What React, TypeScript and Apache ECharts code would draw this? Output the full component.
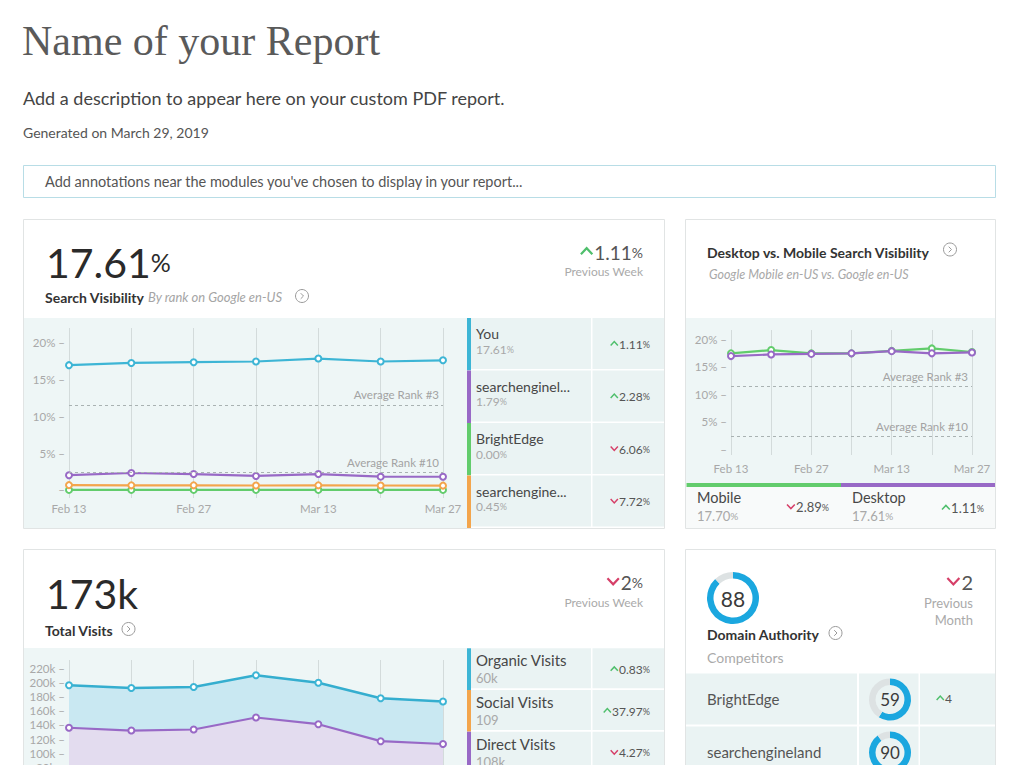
import React, { useEffect, useRef } from 'react';
import * as echarts from 'echarts';

// ---------------- data ----------------
const weeks = ['Feb 13', 'Feb 20', 'Feb 27', 'Mar 6', 'Mar 13', 'Mar 20', 'Mar 27'];

const visYou = [16.95, 17.25, 17.35, 17.45, 17.85, 17.45, 17.61];
const visSearchEngineLand = [2.0, 2.3, 2.15, 1.9, 2.15, 1.8, 1.79];
const visBrightEdge = [0, 0, 0, 0, 0, 0, 0];
const visSearchEngine = [0.65, 0.62, 0.62, 0.6, 0.62, 0.6, 0.58];
const visTicks = [0, 5, 10, 15, 20];
const avgRank3 = 11.55;
const avgRank10 = 2.42;

const visLegendNames = ['You', 'searchenginel...', 'BrightEdge', 'searchengine...'];
const visLegendValues = ['17.61', '1.79', '0.00', '0.45'];
const visLegendChanges = ['1.11', '2.28', '6.06', '7.72'];
const visLegendUp = [true, true, false, false];

const mobileVis = [17.45, 18.05, 17.45, 17.45, 17.9, 18.35, 17.7];
const desktopVis = [16.95, 17.25, 17.35, 17.45, 17.85, 17.45, 17.61];
const mobAvgRank3 = 11.4;
const mobAvgRank10 = 2.3;

const directVisits = [136, 132, 133.5, 150.5, 141, 117, 113]; // thousands
const socialVisits = [0.1, 0.1, 0.1, 0.1, 0.1, 0.1, 0.11];
const organicVisits = [60, 60, 60, 59.5, 58.5, 60.5, 60];
const visitTicks = [80, 100, 120, 140, 160, 180, 200, 220];

const visitLegendNames = ['Organic Visits', 'Social Visits', 'Direct Visits'];
const visitLegendValues = ['60k', '109', '108k'];
const visitLegendChanges = ['0.83', '37.97', '4.27'];
const visitLegendUp = [true, true, false];

const domainAuthority = 88;
const competitorNames = ['BrightEdge', 'searchengineland'];
const competitorDA = [59, 90];
const competitorChanges = ['4', ''];

// ---------------- styles ----------------
const FONT = 'Lato, "Noto Sans", sans-serif';
const BLUE = '#3db5d5';
const PURPLE = '#9869c6';
const GREEN = '#62cc6c';
const ORANGE = '#f3a54c';
const UP = '#4fbf6c';
const DOWN = '#d63f68';
const CHART_BG = '#eef6f6';
const CELL_BG = '#eaf3f3';
const DA_BLUE = '#1ba7df';
const DA_GRAY = '#dde2e3';

let measureCtx: CanvasRenderingContext2D | null = null;
function measure(text: string, size: number): number {
  if (!measureCtx) measureCtx = document.createElement('canvas').getContext('2d');
  if (!measureCtx) return text.length * size * 0.5;
  measureCtx.font = `${size}px Lato`;
  return measureCtx.measureText(text).width;
}

function T(x: number, y: number, text: string, size: number, color: string, o: any = {}) {
  return {
    type: 'text',
    x,
    y,
    z: 10,
    silent: true,
    style: {
      text,
      fontFamily: o.family || FONT,
      fontSize: size,
      fontWeight: o.weight || 'normal',
      fontStyle: o.italic ? 'italic' : 'normal',
      fill: color,
      align: o.align || 'left',
      textAlign: o.align || 'left',
      verticalAlign: 'middle',
      textVerticalAlign: 'middle',
      rich: o.rich,
    },
  };
}

function Rc(x: number, y: number, w: number, h: number, fill: string, stroke?: string) {
  return {
    type: 'rect',
    z: -5,
    silent: true,
    shape: { x, y, width: w, height: h },
    style: { fill, stroke: stroke || null, lineWidth: stroke ? 1 : 0 },
  };
}

function icon(cx: number, cy: number) {
  return [
    { type: 'circle', z: 10, silent: true, shape: { cx, cy, r: 6.5 }, style: { fill: 'none', stroke: '#9a9a9a', lineWidth: 1 } },
    {
      type: 'polyline',
      z: 10,
      silent: true,
      shape: { points: [[cx - 1.3, cy - 2.8], [cx + 1.5, cy], [cx - 1.3, cy + 2.8]] },
      style: { fill: 'none', stroke: '#9a9a9a', lineWidth: 1 },
    },
  ];
}

function change(x: number, y: number, up: boolean, num: string, suffix: string, size: number) {
  const ps = Math.round(size * 0.72);
  const rich = {
    n: { fill: '#555', color: '#555', fontSize: size, fontFamily: FONT },
    p: { fill: '#555', color: '#555', fontSize: ps, fontFamily: FONT },
  };
  const txt = `{n|${num}}` + (suffix ? `{p|${suffix}}` : '');
  const w = measure(num, size) + (suffix ? measure(suffix, ps) : 0);
  const cw = size * 0.6;
  const ch = size * 0.32;
  const r = x - w - size * 0.1;
  const l = r - cw;
  const cy = y - size * 0.04;
  const pts = up
    ? [[l, cy + ch / 2], [l + cw / 2, cy - ch / 2], [r, cy + ch / 2]]
    : [[l, cy - ch / 2], [l + cw / 2, cy + ch / 2], [r, cy - ch / 2]];
  return [
    T(x, y, txt, size, '#555', { align: 'right', rich }),
    {
      type: 'polyline',
      z: 10,
      silent: true,
      shape: { points: pts },
      style: { fill: 'none', stroke: up ? UP : DOWN, lineWidth: size > 15 ? 2.2 : 1.5, lineJoin: 'miter' },
    },
  ];
}

function valuePct(x: number, y: number, v: string, size: number) {
  return T(x, y, `{v|${v}}{p|%}`, size, '#a8a8a8', {
    rich: {
      v: { fill: '#a8a8a8', color: '#a8a8a8', fontSize: size, fontFamily: FONT },
      p: { fill: '#a8a8a8', color: '#a8a8a8', fontSize: Math.round(size * 0.75), fontFamily: FONT },
    },
  });
}

function buildGraphics() {
  const g: any[] = [];

  // ----- header -----
  g.push(T(22, 41, 'Name of your Report', 42, '#5a5a5a', { family: '"Liberation Serif", serif' }));
  g.push(T(23, 98, 'Add a description to appear here on your custom PDF report.', 18, '#444'));
  g.push(T(23, 132, 'Generated on March 29, 2019', 14, '#555'));
  g.push(Rc(23.5, 165.5, 972, 32, '#fff', '#b8dde6'));
  g.push(T(45, 181.5, "Add annotations near the modules you've chosen to display in your report...", 14.5, '#555'));

  // ----- panel 1: search visibility -----
  g.push(Rc(23.5, 219.5, 641, 309, '#fff', '#e1e4e4'));
  g.push(Rc(24, 318, 443, 210, CHART_BG));
  g.push(
    T(46, 262, '{a|17.61}{b|%}', 40, '#2a2a2a', {
      rich: {
        a: { fill: '#2a2a2a', color: '#2a2a2a', fontSize: 41, fontFamily: FONT },
        b: { fill: '#2a2a2a', color: '#2a2a2a', fontSize: 25, fontFamily: FONT },
      },
    })
  );
  g.push(
    T(45, 297, '{b|Search Visibility} {i|By rank on Google en-US}', 14, '#333', {
      rich: {
        b: { fill: '#333', color: '#333', fontSize: 14, fontWeight: 'bold', fontFamily: FONT },
        i: { fill: '#a5a5a5', color: '#a5a5a5', fontSize: 13, fontStyle: 'italic', fontFamily: FONT },
      },
    })
  );
  g.push(...icon(302, 296));
  g.push(...change(643, 252, true, '1.11', '%', 19));
  g.push(T(643, 271.5, 'Previous Week', 12, '#aaa', { align: 'right' }));

  const visColors = [BLUE, PURPLE, GREEN, ORANGE];
  visLegendNames.forEach((name, i) => {
    const top = 318 + i * 52.5;
    g.push(Rc(467, top, 124, 51, CELL_BG));
    g.push(Rc(592.5, top, 71.5, 51, CELL_BG));
    g.push(Rc(467, top, 4, 52.5, visColors[i]));
    g.push(T(476, top + 15.5, name, 14, '#474747'));
    g.push(valuePct(476, top + 31, visLegendValues[i], 12));
    g.push(...change(650, top + 26, visLegendUp[i], visLegendChanges[i], '%', 12));
  });

  // ----- panel 2: desktop vs mobile -----
  g.push(Rc(685.5, 219.5, 310, 309, '#fff', '#e1e4e4'));
  g.push(Rc(686, 318, 309, 165, CHART_BG));
  g.push(T(707, 252, 'Desktop vs. Mobile Search Visibility', 14, '#333', { weight: 'bold' }));
  g.push(...icon(950, 249.5));
  g.push(T(709, 274, 'Google Mobile en-US vs. Google en-US', 12.5, '#a8a8a8', { italic: true }));
  g.push(Rc(686, 487, 309, 41, '#f8fafa'));
  g.push(Rc(686.5, 483, 154.5, 4, GREEN));
  g.push(Rc(841, 483, 154, 4, PURPLE));
  g.push(T(697, 497.5, 'Mobile', 14.5, '#474747'));
  g.push(valuePct(697, 515.5, '17.70', 13));
  g.push(...change(829, 507, false, '2.89', '%', 13));
  g.push(T(852, 497.5, 'Desktop', 14.5, '#474747'));
  g.push(valuePct(852, 515.5, '17.61', 13));
  g.push(...change(984, 508, true, '1.11', '%', 13));

  // ----- panel 3: total visits -----
  g.push(Rc(23.5, 549.5, 641, 240, '#fff', '#e1e4e4'));
  g.push(Rc(24, 648, 443, 130, CHART_BG));
  g.push(T(46, 593, '173k', 41, '#2a2a2a'));
  g.push(T(45, 630.5, 'Total Visits', 14, '#333', { weight: 'bold' }));
  g.push(...icon(128.5, 629));
  g.push(...change(643, 582, false, '2', '%', 19));
  g.push(T(643, 602, 'Previous Week', 12, '#aaa', { align: 'right' }));
  const visitColors = [BLUE, ORANGE, PURPLE];
  visitLegendNames.forEach((name, i) => {
    const top = 648.3 + i * 41.7;
    g.push(Rc(467, top, 124, 40, CELL_BG));
    g.push(Rc(592.5, top, 71.5, 40, CELL_BG));
    g.push(Rc(467, top, 4, 41.7, visitColors[i]));
    g.push(T(476, top + 12, name, 15, '#474747'));
    g.push(T(476, top + 30, visitLegendValues[i], 13, '#a8a8a8'));
    g.push(...change(650, top + 21, visitLegendUp[i], visitLegendChanges[i], '%', 12));
  });

  // ----- panel 4: domain authority -----
  g.push(Rc(685.5, 549.5, 310, 240, '#fff', '#e1e4e4'));
  g.push(T(733, 598.5, String(domainAuthority), 21, '#3a3a3a', { align: 'center' }));
  g.push(T(707, 634.5, 'Domain Authority', 14, '#333', { weight: 'bold' }));
  g.push(...icon(835.5, 633));
  g.push(T(707, 657.5, 'Competitors', 14, '#aaa'));
  g.push(...change(973, 582, false, '2', '', 20));
  g.push(T(973, 602.5, 'Previous', 13, '#aaa', { align: 'right' }));
  g.push(T(973, 619.5, 'Month', 13, '#aaa', { align: 'right' }));
  competitorNames.forEach((name, i) => {
    const top = 673.5 + i * 53;
    g.push(Rc(686, top, 171, 51, CELL_BG));
    g.push(Rc(859, top, 59.5, 51, CELL_BG));
    g.push(Rc(920, top, 75, 51, CELL_BG));
    g.push(T(707, top + 25.5, name, 15, '#555'));
    g.push(T(890, top + 26, String(competitorDA[i]), 17, '#3a3a3a', { align: 'center' }));
    if (competitorChanges[i]) g.push(...change(952, top + 25, true, competitorChanges[i], '', 12));
  });

  return g;
}

function donut(cx: number, cy: number, r0: number, r1: number, v: number) {
  return {
    type: 'pie',
    silent: true,
    center: [cx, cy],
    radius: [r0, r1],
    startAngle: 90,
    clockwise: true,
    label: { show: false },
    labelLine: { show: false },
    itemStyle: { borderWidth: 0 },
    data: [
      { value: v, itemStyle: { color: DA_BLUE } },
      { value: 100 - v, itemStyle: { color: DA_GRAY } },
    ],
  };
}

function lineSeries(name: string, data: number[], color: string, xi: number, extra: any = {}) {
  return {
    type: 'line',
    name,
    data,
    xAxisIndex: xi,
    yAxisIndex: xi,
    symbol: 'emptyCircle',
    symbolSize: 6,
    lineStyle: { color, width: 2.2 },
    itemStyle: { color, borderColor: color, borderWidth: 1.5 },
    ...extra,
  };
}

function avgMarkLine(r3: number, r10: number) {
  return {
    silent: true,
    symbol: 'none',
    lineStyle: { type: [3, 3], color: '#a9b2b2', width: 1 },
    label: {
      show: true,
      position: 'insideEndTop',
      formatter: '{b}',
      color: '#a3a3a3',
      fontSize: 11.5,
      fontFamily: FONT,
      distance: 4,
    },
    data: [
      { name: 'Average Rank #3', yAxis: r3 },
      { name: 'Average Rank #10', yAxis: r10 },
    ],
  };
}

function xAxis(gi: number, showLabel: boolean) {
  return {
    type: 'category',
    gridIndex: gi,
    data: weeks,
    boundaryGap: false,
    axisLine: { show: false },
    axisTick: { show: false },
    axisLabel: { show: showLabel, interval: 1, color: '#a8a8a8', fontSize: 11.5, fontFamily: FONT, margin: gi === 1 ? 7 : 4 },
    splitLine: { show: true, interval: 0, lineStyle: { color: '#d3dbdb', width: 1 } },
  };
}

function yAxis(gi: number, min: number, max: number, ticks: number[], fmt: (v: number) => string) {
  return {
    type: 'value',
    gridIndex: gi,
    min,
    max,
    splitLine: { show: false },
    axisLine: { show: false },
    axisTick: { show: false },
    axisLabel: {
      customValues: ticks,
      formatter: fmt,
      color: '#a8a8a8',
      fontSize: 11.5,
      fontFamily: FONT,
      margin: 4,
    },
  };
}

export default function App() {
  const ref = useRef<HTMLDivElement>(null);
  useEffect(() => {
    if (!ref.current) return;
    const chart = echarts.init(ref.current, null, { renderer: 'svg' });
    const pctFmt = (v: number) => (v === 0 ? '–' : `${v}% –`);
    chart.setOption({
      animation: false,
      backgroundColor: '#fff',
      textStyle: { fontFamily: FONT },
      graphic: { elements: buildGraphics() },
      grid: [
        { left: 69, top: 328, width: 374, height: 170, outerBoundsMode: 'none', containLabel: false },
        { left: 731, top: 330, width: 241, height: 125, outerBoundsMode: 'none', containLabel: false },
        { left: 69, top: 660, width: 374, height: 164, outerBoundsMode: 'none', containLabel: false },
      ],
      xAxis: [xAxis(0, true), xAxis(1, true), xAxis(2, false)],
      yAxis: [
        yAxis(0, -1.1, 22, visTicks, pctFmt),
        yAxis(1, -1.05, 21.7, visTicks, pctFmt),
        yAxis(2, 0, 231.7, visitTicks, (v: number) => `${v}k –`),
      ],
      series: [
        lineSeries('You', visYou, BLUE, 0, { z: 5, markLine: avgMarkLine(avgRank3, avgRank10) }),
        lineSeries('searchengineland', visSearchEngineLand, PURPLE, 0, { z: 4 }),
        lineSeries('BrightEdge', visBrightEdge, GREEN, 0, { z: 3 }),
        lineSeries('searchengine...', visSearchEngine, ORANGE, 0, { z: 3 }),

        lineSeries('Mobile', mobileVis, GREEN, 1, { z: 4, markLine: avgMarkLine(mobAvgRank3, mobAvgRank10) }),
        lineSeries('Desktop', desktopVis, PURPLE, 1, { z: 5 }),

        lineSeries('Direct Visits', directVisits, PURPLE, 2, {
          stack: 'visits',
          z: 4,
          areaStyle: { color: '#e3dcef', opacity: 1 },
        }),
        lineSeries('Social Visits', socialVisits, ORANGE, 2, {
          stack: 'visits',
          z: 1,
          symbol: 'none',
          lineStyle: { color: ORANGE, width: 0 },
        }),
        lineSeries('Organic Visits', organicVisits, BLUE, 2, {
          stack: 'visits',
          z: 4,
          lineStyle: { color: '#35aecf', width: 2.6 },
          areaStyle: { color: '#c9e8f2', opacity: 1 },
        }),

        donut(733, 598, 19.5, 26, domainAuthority),
        donut(890, 699.5, 14.5, 21, competitorDA[0]),
        donut(890, 752.5, 14.5, 21, competitorDA[1]),
      ],
    });
    return () => chart.dispose();
  }, []);
  return (
    <div
      ref={ref}
      style={{ position: 'absolute', left: 0, top: 0, width: 1024, height: 765, background: '#fff' }}
    />
  );
}
